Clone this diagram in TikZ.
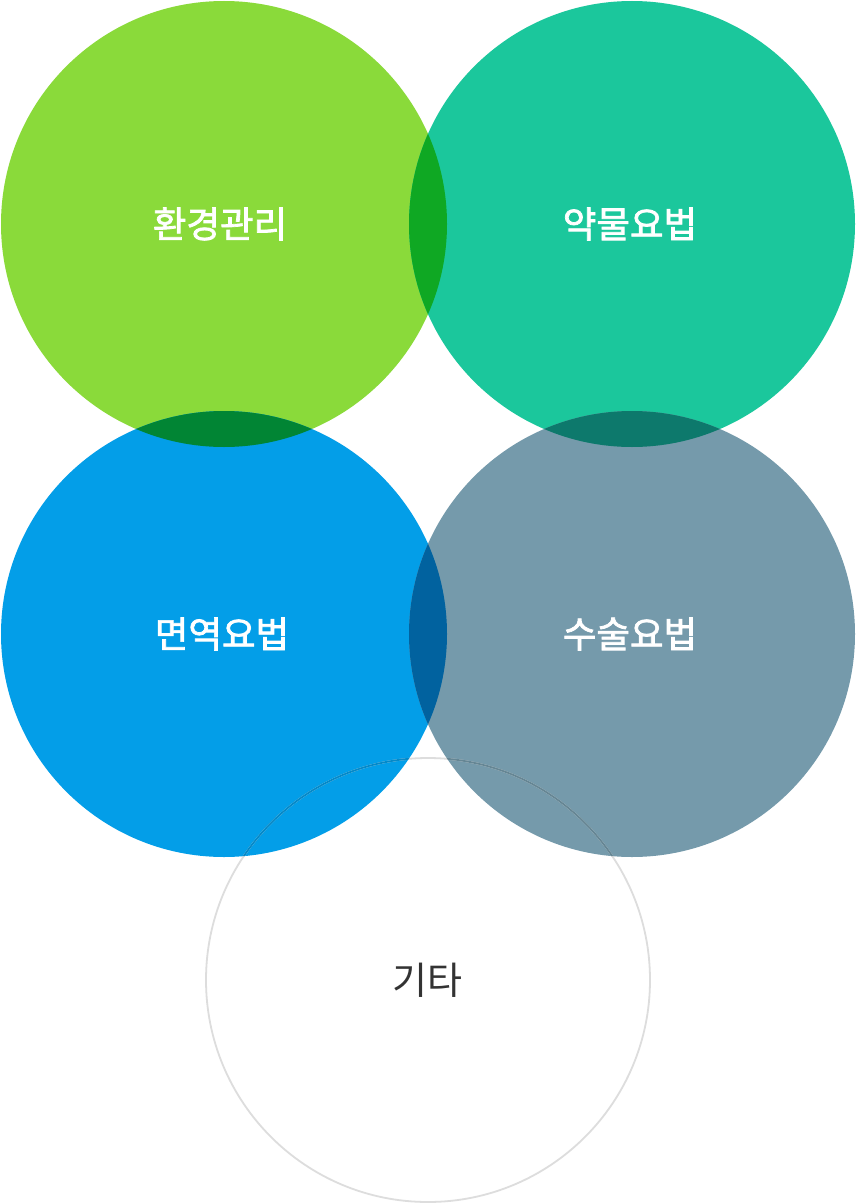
\documentclass[tikz,border=0pt]{standalone}
\usepackage{fontspec}
\setmainfont{Noto Sans CJK KR}
\newfontfamily\krfont{Noto Sans CJK KR}
\newfontfamily\krmed[FakeBold=2.0]{Noto Sans CJK KR}
\definecolor{cgreen}{RGB}{138,218,58}
\definecolor{cteal}{RGB}{27,199,156}
\definecolor{cblue}{RGB}{3,158,232}
\definecolor{cslate}{RGB}{117,154,171}
\definecolor{cgt}{RGB}{15,168,35}
\definecolor{cgb}{RGB}{1,133,52}
\definecolor{cts}{RGB}{13,121,108}
\definecolor{cbs}{RGB}{1,98,159}
\definecolor{cring}{RGB}{221,221,221}
\definecolor{cringb}{RGB}{3,137,201}
\definecolor{crings}{RGB}{101,134,148}
\definecolor{ctext}{RGB}{51,51,51}
\tikzset{
  lbl/.style={font=\krmed\fontsize{36.5}{36.5}\selectfont, text=white},
  lbldark/.style={font=\krfont\fontsize{38}{38}\selectfont, text=ctext},
}
\begin{document}
\begin{tikzpicture}[x=1pt,y=-1pt]
\useasboundingbox (0,0) rectangle (856,1204);
\fill[white] (0,0) rectangle (856,1204);
% circles
\fill[cgreen] (224,224) circle (223);
\fill[cteal] (632,224) circle (223);
\fill[cblue] (224,634) circle (223);
\fill[cslate] (632,634) circle (223);
% overlaps
\begin{scope}
  \clip (224,224) circle (223);
  \fill[cgt] (632,224) circle (223);
  \fill[cgb] (224,634) circle (223);
\end{scope}
\begin{scope}
  \clip (632,224) circle (223);
  \fill[cts] (632,634) circle (223);
\end{scope}
\begin{scope}
  \clip (224,634) circle (223);
  \fill[cbs] (632,634) circle (223);
\end{scope}
% ring
\draw[cring, line width=1.8pt] (428,980) circle (222);
\begin{scope}
  \clip (224,634) circle (223);
  \draw[cringb, line width=1.8pt] (428,980) circle (222);
\end{scope}
\begin{scope}
  \clip (632,634) circle (223);
  \draw[crings, line width=1.8pt] (428,980) circle (222);
\end{scope}
\begin{scope}
  \clip (224,634) circle (223);
  \clip (632,634) circle (223);
  \draw[cbs!85!black, line width=1.8pt] (428,980) circle (222);
\end{scope}
% labels
\node[lbl] (a) at (220,224) {환경관리};
\node[lbl] (b) at (630,224) {약물요법};
\node[lbl] (c) at (222,634) {면역요법};
\node[lbl] (d) at (630,634) {수술요법};
\node[lbldark] (e) at (427,980) {기타};
\end{tikzpicture}
\end{document}
